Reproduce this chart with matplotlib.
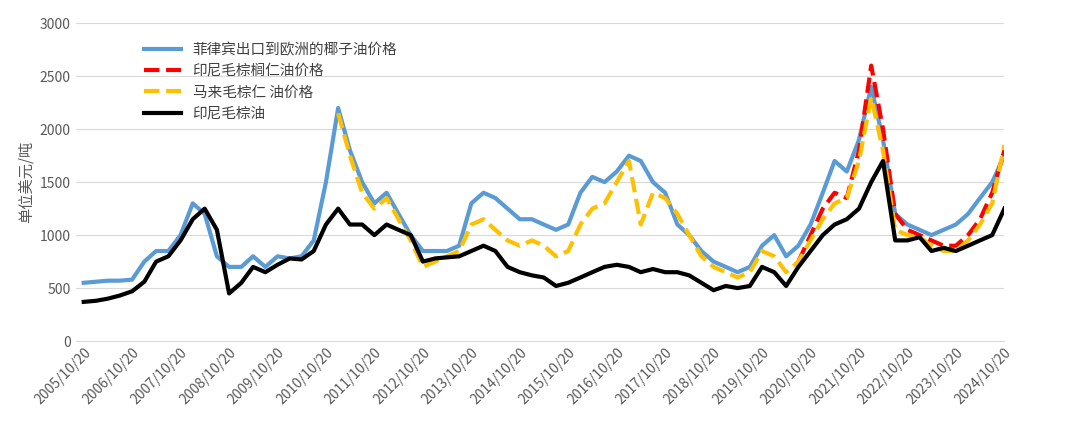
import matplotlib
matplotlib.use("Agg")
import matplotlib.pyplot as plt
import pandas as pd
import numpy as np

plt.rcParams["font.family"] = ["Noto Sans CJK SC", "DejaVu Sans"]

dates = pd.date_range("2005-10-20", periods=77, freq="3MS") + pd.Timedelta(days=19)

black = [370,380,400,430,470,560,750,800,950,1150,1250,1050,450,550,700,650,720,780,770,850,1100,1250,1100,1100,1000,1100,1050,1000,750,780,790,800,850,900,850,700,650,620,600,520,550,600,650,700,720,700,650,680,650,650,620,550,480,520,500,520,700,650,520,700,850,1000,1100,1150,1250,1500,1700,950,950,980,850,880,850,900,950,1000,1250]
blue = [550,560,570,570,580,750,850,850,1000,1300,1200,800,700,700,800,700,800,780,800,950,1500,2200,1800,1500,1300,1400,1200,1000,850,850,850,900,1300,1400,1350,1250,1150,1150,1100,1050,1100,1400,1550,1500,1600,1750,1700,1500,1400,1100,1000,850,750,700,650,700,900,1000,800,900,1100,1400,1700,1600,1900,2400,1900,1200,1100,1050,1000,1050,1100,1200,1350,1500,1750]
yellow = [np.nan]*21 + [2150,1750,1400,1250,1350,1150,950,700,750,800,850,1100,1150,1050,950,900,950,900,800,850,1100,1250,1300,1500,1700,1100,1400,1350,1200,1000,800,700,650,600,650,850,800,650,750,950,1150,1300,1350,1700,2300,1800,1050,1000,980,900,850,850,950,1100,1300,1850]
red = [np.nan]*59 + [750,1000,1250,1400,1350,1800,2600,2000,1200,1050,1000,950,900,900,1000,1150,1400,1800]

labels = ["菲律宾出口到欧洲的椰子油价格", "印尼毛棕榈仁油价格", "马来毛棕仁 油价格", "印尼毛棕油"]

fig, ax = plt.subplots(figsize=(10.8, 4.47), dpi=100)
fig.subplots_adjust(left=0.07, right=0.93, top=0.948, bottom=0.237)
ax.plot(dates, blue, color="#5b9bd5", lw=3, label=labels[0])
ax.plot(dates, red, color="#ff0000", lw=3, ls="--", label=labels[1])
ax.plot(dates, yellow, color="#ffc000", lw=3, ls="--", label=labels[2])
ax.plot(dates, black, color="black", lw=3, label=labels[3])

ax.set_ylim(0, 3000)
ax.set_yticks(range(0, 3001, 500))
ticks = pd.date_range("2005-10-20", periods=20, freq="12MS") + pd.Timedelta(days=19)
ax.set_xticks(ticks)
ax.set_xticklabels([f"{d.year}/10/20" for d in ticks], rotation=45, ha="right", rotation_mode="anchor", color="#595959", fontsize=10)
ax.set_xlim(pd.Timestamp("2005-09-20"), pd.Timestamp("2024-11-20"))
ax.tick_params(axis="y", colors="#595959", labelsize=10, length=0)
ax.tick_params(axis="x", length=0)
ax.grid(axis="y", color="#d9d9d9", lw=0.8)
ax.set_axisbelow(True)
for s in ["top", "right", "left"]:
    ax.spines[s].set_visible(False)
ax.spines["bottom"].set_color("#d9d9d9")
ax.set_ylabel("单位美元/吨", color="#595959", fontsize=11)
ax.legend(loc="upper left", bbox_to_anchor=(0.06, 0.98), frameon=False, fontsize=10.5, handlelength=2.5, labelcolor="#404040")
fig.savefig("out.png")
